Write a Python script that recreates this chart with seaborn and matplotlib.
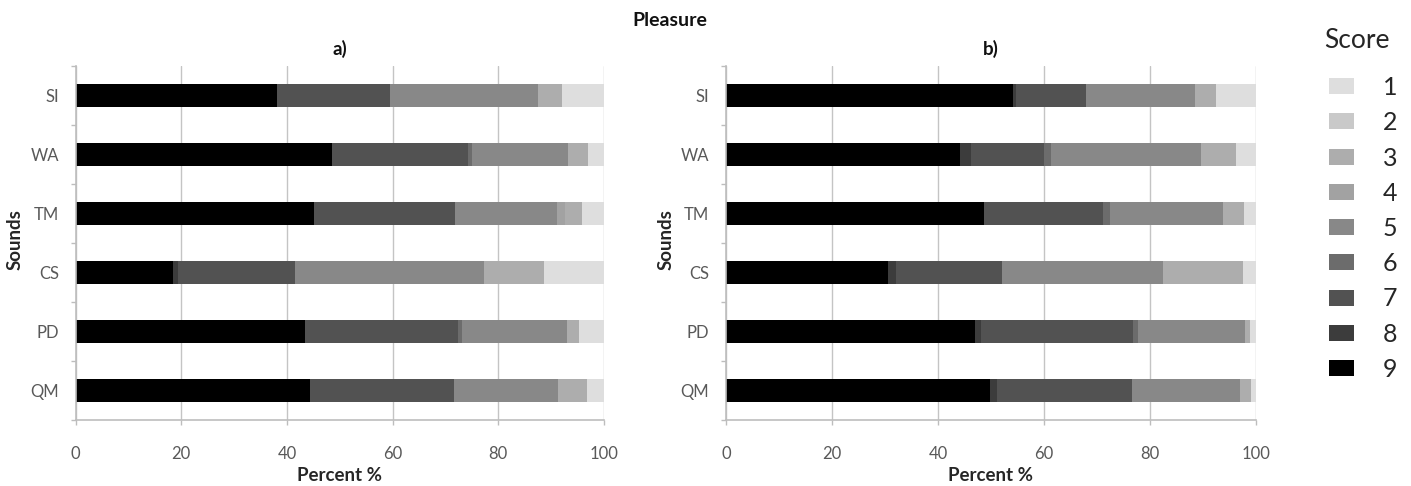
import numpy as np
import pandas as pd
import matplotlib
matplotlib.use("Agg")
import matplotlib.pyplot as plt
import seaborn as sns
from matplotlib.patches import Patch
from matplotlib.ticker import FixedLocator

# Sounds, top to bottom
sounds = ["SI", "WA", "TM", "CS", "PD", "QM"]
scores = [1, 2, 3, 4, 5, 6, 7, 8, 9]
x_ticks = [0, 20, 40, 60, 80, 100]

# Panel a) - percent of answers per score, one list per score (order follows `sounds`)
a_s9 = [38.2, 48.5, 45.1, 18.5, 43.5, 44.3]
a_s8 = [0.0, 0.0, 0.0, 0.8, 0.0, 0.0]
a_s7 = [21.3, 25.8, 26.8, 22.2, 28.9, 27.4]
a_s6 = [0.0, 0.8, 0.0, 0.0, 0.8, 0.0]
a_s5 = [28.1, 18.0, 19.2, 35.8, 19.8, 19.6]
a_s4 = [0.0, 0.0, 1.6, 0.0, 0.0, 0.0]
a_s3 = [4.4, 3.9, 3.2, 11.3, 2.2, 5.4]
a_s2 = [0.0, 0.0, 0.0, 0.0, 0.0, 0.0]
a_s1 = [8.0, 3.0, 4.1, 11.4, 4.8, 3.3]

# Panel b)
b_s9 = [54.2, 44.1, 48.7, 30.5, 46.9, 49.8]
b_s8 = [0.6, 2.2, 0.0, 1.5, 1.2, 1.3]
b_s7 = [13.2, 13.7, 22.4, 20.1, 28.7, 25.5]
b_s6 = [0.0, 1.3, 1.3, 0.0, 0.9, 0.0]
b_s5 = [20.5, 28.4, 21.3, 30.3, 20.3, 20.3]
b_s4 = [0.0, 0.0, 0.0, 0.0, 0.0, 0.0]
b_s3 = [4.0, 6.6, 4.1, 15.2, 0.8, 2.1]
b_s2 = [0.0, 0.0, 0.0, 0.0, 0.0, 0.0]
b_s1 = [7.5, 3.7, 2.2, 2.4, 1.2, 1.0]

score_colors = {
    1: "#dedede", 2: "#c9c9c9", 3: "#adadad", 4: "#a2a2a2", 5: "#888888",
    6: "#6c6c6c", 7: "#525252", 8: "#3c3c3c", 9: "#000000",
}


def long_table(panel, lists):
    rows = []
    for score, vals in zip([9, 8, 7, 6, 5, 4, 3, 2, 1], lists):
        for sound, v in zip(sounds, vals):
            rows.append({"panel": panel, "sound": sound, "score": score, "pct": v})
    df = pd.DataFrame(rows)
    # cumulative extent from the black (9) segment outward
    df = df.sort_values(["sound", "score"], ascending=[True, False])
    df["cum"] = df.groupby("sound")["pct"].cumsum()
    return df


data_a = long_table("a", [a_s9, a_s8, a_s7, a_s6, a_s5, a_s4, a_s3, a_s2, a_s1])
data_b = long_table("b", [b_s9, b_s8, b_s7, b_s6, b_s5, b_s4, b_s3, b_s2, b_s1])

sns.set_theme(style="white")
plt.rcParams["font.family"] = ["Lato", "DejaVu Sans"]

W, H = 1411, 486
fig = plt.figure(figsize=(W / 100, H / 100), dpi=100)
fig.patch.set_facecolor("white")

ax_top, ax_bot = 66, 420
axes_px = [(75.5, 604), (726, 1256)]
axes = []
for (x0, x1) in axes_px:
    axes.append(fig.add_axes([x0 / W, 1 - ax_bot / H, (x1 - x0) / W, (ax_bot - ax_top) / H]))

tick_gray = "#595959"
line_gray = "#bdbdbd"

for ax, df, title in zip(axes, [data_a, data_b], ["a)", "b)"]):
    # stacked bars: longest cumulative first, each shorter one drawn over it
    for score in scores:
        sub = df[df["score"] == score]
        sns.barplot(data=sub, x="cum", y="sound", order=sounds, orient="h",
                    color=score_colors[score], saturation=1, width=0.38,
                    linewidth=0, errorbar=None, ax=ax)
    ax.set_xlim(0, 100)
    ax.set_ylim(5.5, -0.5)
    ax.set_xticks(x_ticks)
    ax.set_xticklabels([str(t) for t in x_ticks])
    ax.yaxis.set_minor_locator(FixedLocator(np.arange(-0.5, 6.0, 1.0)))
    ax.tick_params(axis="y", which="major", length=0, pad=12, labelsize=12, labelcolor=tick_gray)
    ax.tick_params(axis="y", which="minor", length=3.5, width=1, color=line_gray, left=True)
    ax.tick_params(axis="x", which="major", length=3.6, width=1, color=line_gray, bottom=True,
                   pad=15, labelsize=12, labelcolor=tick_gray)
    ax.grid(axis="x", color="#c4c4c4", linewidth=1)
    ax.set_axisbelow(True)
    for side in ["top", "right"]:
        ax.spines[side].set_visible(False)
    for side in ["left", "bottom"]:
        ax.spines[side].set_color(line_gray)
        ax.spines[side].set_linewidth(1.2)
    ax.set_xlabel("Percent %", fontsize=13.5, fontweight="bold", color="#262626")
    ax.set_ylabel("Sounds", fontsize=13.5, fontweight="bold", color="#262626")
    ax.xaxis.set_label_coords(0.5, -0.132)
    ax.yaxis.set_label_coords(-0.098, 0.51)
    ax.set_title(title, fontsize=13.5, fontweight="bold", color="#111111", pad=8)

fig.text(670 / W, 1 - 20 / H, "Pleasure", ha="center", va="center",
         fontsize=14, fontweight="bold", color="#111111")

# legend: heading drawn on its own, entries 1..9 below
fig.text(1357 / W, 1 - 41 / H, "Score", ha="center", va="center",
         fontsize=19, color="#262626")
handles = [Patch(facecolor=score_colors[s], edgecolor="none", label=str(s)) for s in scores]
leg = fig.legend(handles=handles, loc="upper left",
                 bbox_to_anchor=(1319 / W, 1 - 66 / H), frameon=False,
                 fontsize=18, handlelength=1.0, handleheight=0.6,
                 labelspacing=0.49, handletextpad=1.15, borderaxespad=0)
for t in leg.get_texts():
    t.set_color("#262626")

fig.savefig("out.png", dpi=100, facecolor="white")
